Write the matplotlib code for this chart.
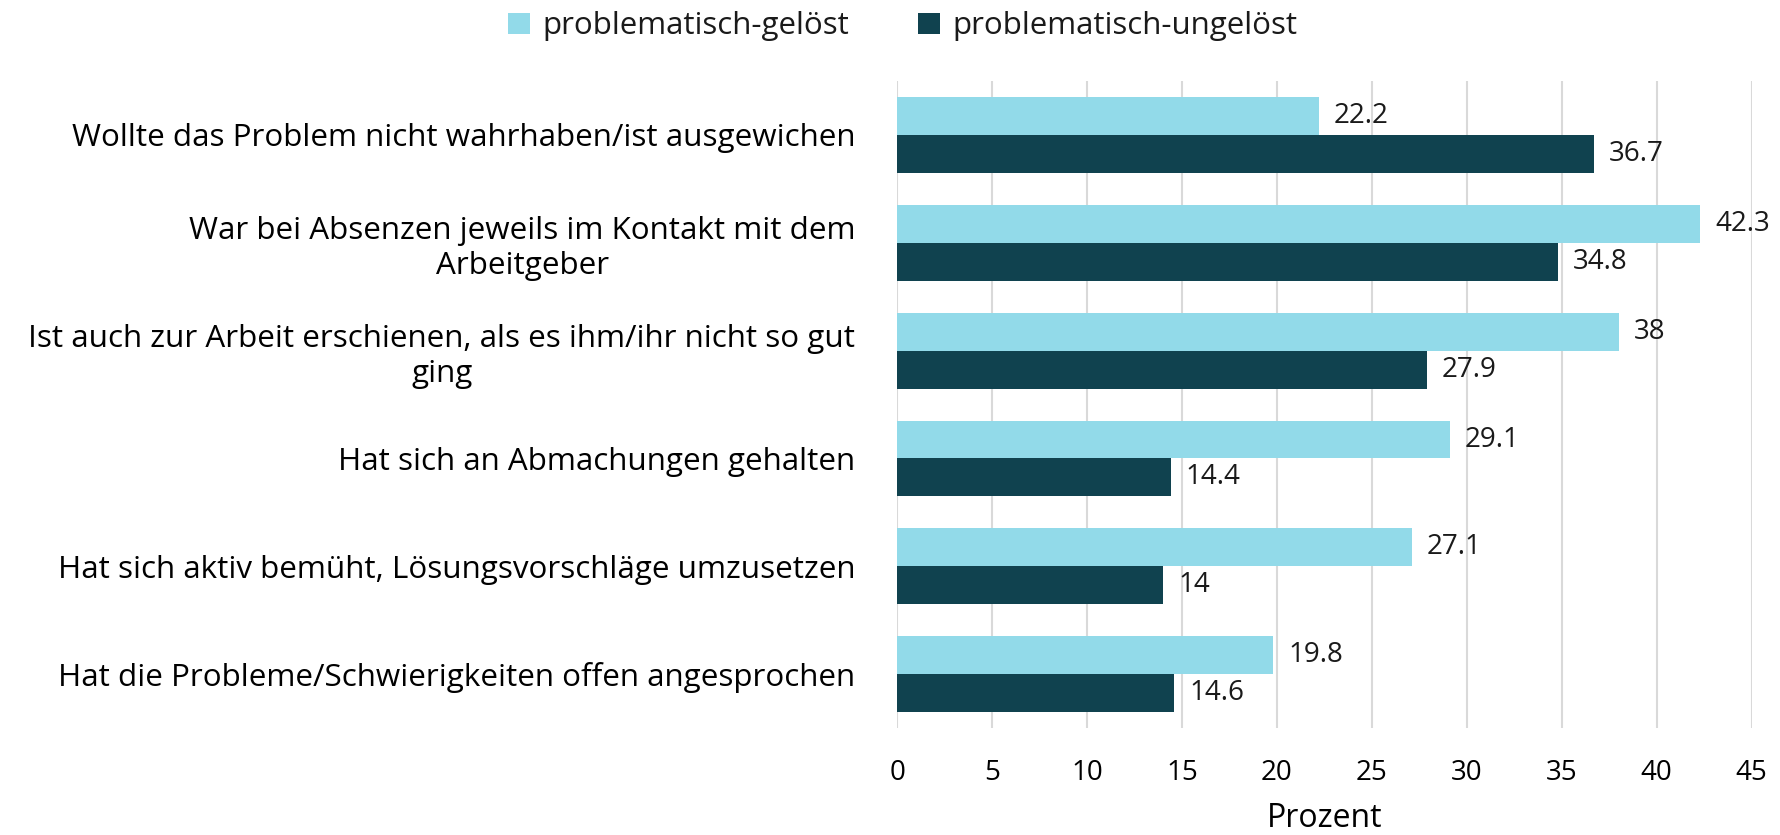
import matplotlib.pyplot as plt
import numpy as np

# data
categories = [
    "Wollte das Problem nicht wahrhaben/ist ausgewichen",
    "War bei Absenzen jeweils im Kontakt mit dem\nArbeitgeber",
    "Ist auch zur Arbeit erschienen, als es ihm/ihr nicht so gut\nging",
    "Hat sich an Abmachungen gehalten",
    "Hat sich aktiv bemüht, Lösungsvorschläge umzusetzen",
    "Hat die Probleme/Schwierigkeiten offen angesprochen",
]
geloest = [22.2, 42.3, 38, 29.1, 27.1, 19.8]
ungeloest = [36.7, 34.8, 27.9, 14.4, 14, 14.6]
series_names = ["problematisch-gelöst", "problematisch-ungelöst"]
xticks = [0, 5, 10, 15, 20, 25, 30, 35, 40, 45]

plt.rcParams['font.family'] = ['Open Sans', 'DejaVu Sans']
plt.rcParams['text.color'] = '#1a1a1a'

light = '#92DAE9'
dark = '#10424F'

fig = plt.figure(figsize=(17.8, 8.35), dpi=100)
ax = fig.add_axes([0.504, 0.128, 0.48, 0.775])

y = np.arange(len(categories))
h = 0.352
ax.barh(y - h / 2, geloest, height=h, color=light, label=series_names[0], zorder=2)
ax.barh(y + h / 2, ungeloest, height=h, color=dark, label=series_names[1], zorder=2)

for yi, v in zip(y, geloest):
    ax.text(v + 0.8, yi - h / 2, f"{v:g}", va='center', ha='left', fontsize=20)
for yi, v in zip(y, ungeloest):
    ax.text(v + 0.8, yi + h / 2, f"{v:g}", va='center', ha='left', fontsize=20)

ax.set_xlim(0, 45)
ax.set_ylim(len(categories) - 0.5, -0.5)
ax.set_xticks(xticks)
ax.set_xticklabels([str(t) for t in xticks], fontsize=20)
ax.set_yticks(y)
ax.set_yticklabels(categories, fontsize=22.6)
for t in ax.get_yticklabels():
    t.set_multialignment('center')
ax.tick_params(axis='both', length=0)
ax.tick_params(axis='y', pad=30)
ax.tick_params(axis='x', pad=22)
ax.xaxis.grid(True, color='#d9d9d9', linewidth=1.5, zorder=0)
ax.set_axisbelow(True)
for s in ax.spines.values():
    s.set_visible(False)
ax.set_xlabel("Prozent", fontsize=23, labelpad=11)

fig.legend(loc='upper center', bbox_to_anchor=(0.507, 1.02), ncol=2, frameon=False,
           fontsize=22.5, handlelength=0.7, handleheight=0.7, handletextpad=0.4,
           columnspacing=2.2)

fig.savefig("out.png", dpi=100)
